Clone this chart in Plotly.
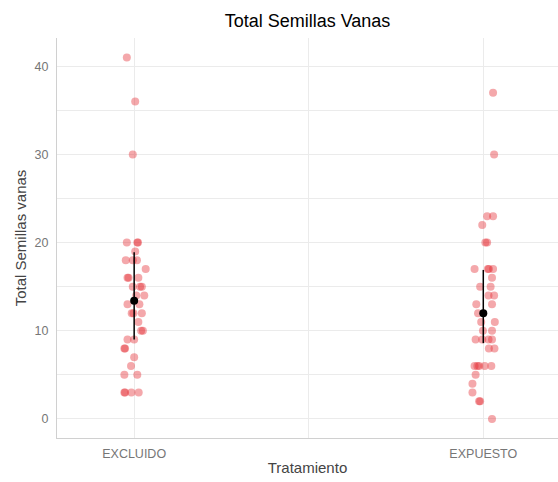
import plotly.graph_objects as go

# ---- data ----
categories = ["EXCLUIDO", "EXPUESTO"]

excluido_values = [41, 36, 30, 20, 20, 20, 19, 18, 18, 18, 17, 16, 16, 16, 15, 15, 15, 14, 14,
                   13, 13, 12, 12, 12, 11, 10, 10, 9, 9, 8, 8, 7, 6, 5, 5, 3, 3, 3, 3]
excluido_jitter = [-0.021, 0.003, -0.004, -0.021, 0.009, 0.011, 0.003, -0.024, -0.004, 0.008,
                   0.033, -0.016, -0.019, 0.012, -0.004, 0.017, 0.022, 0.006, 0.029, -0.019,
                   0.015, -0.007, -0.002, 0.022, 0.012, 0.020, 0.025, -0.019, 0.000, -0.028,
                   -0.026, 0.000, -0.009, -0.028, 0.009, -0.028, -0.026, -0.008, 0.013]

expuesto_values = [37, 30, 23, 23, 22, 20, 20, 17, 17, 17, 17, 16, 15, 15, 14, 14, 13, 13, 12,
                   11, 11, 10, 10, 9, 9, 9, 9, 8, 8, 6, 6, 6, 6, 6, 5, 4, 3, 2, 2, 0]
expuesto_jitter = [0.028, 0.031, 0.011, 0.028, -0.003, 0.011, 0.006, -0.025, 0.016, 0.028,
                   0.013, 0.025, -0.009, 0.021, 0.015, 0.031, 0.025, -0.020, -0.015, -0.006,
                   0.033, -0.001, 0.025, -0.022, -0.003, 0.015, 0.025, 0.016, 0.032, -0.025,
                   -0.017, -0.012, 0.004, 0.023, -0.022, -0.031, -0.031, -0.012, -0.009, 0.025]

summary_mean = [13.4, 12.0]
summary_low = [9.0, 8.6]
summary_high = [18.9, 16.9]

y_ticks = [0, 10, 20, 30, 40]

# ---- figure ----
FONT = "Liberation Sans, Arial, sans-serif"
point_color = "rgba(228, 38, 44, 0.40)"

fig = go.Figure()

groups = [(excluido_values, excluido_jitter), (expuesto_values, expuesto_jitter)]
for i, (vals, jit) in enumerate(groups):
    pos = i + 1
    fig.add_trace(go.Scatter(
        x=[pos + j for j in jit],
        y=vals,
        mode="markers",
        marker=dict(size=8, color=point_color, line=dict(width=0)),
        showlegend=False,
        hoverinfo="y",
    ))

cat_pos = [i + 1 for i in range(len(categories))]
fig.add_trace(go.Scatter(
    x=cat_pos,
    y=summary_mean,
    mode="markers",
    marker=dict(size=8, color="black"),
    error_y=dict(
        type="data",
        symmetric=False,
        array=[h - m for h, m in zip(summary_high, summary_mean)],
        arrayminus=[m - l for m, l in zip(summary_mean, summary_low)],
        width=0,
        thickness=1.5,
        color="black",
    ),
    showlegend=False,
))

grid = "#EBEBEB"
fig.update_layout(
    width=558,
    height=482,
    margin=dict(l=57, r=0, t=38, b=44, autoexpand=False),
    paper_bgcolor="white",
    plot_bgcolor="white",
    font=dict(family=FONT),
    title=dict(
        text="Total Semillas Vanas",
        x=0.5, xref="paper", xanchor="center",
        y=1 - 21 / 482, yref="container", yanchor="middle",
        font=dict(size=18, color="black", family=FONT),
    ),
    xaxis=dict(
        range=[0.779, 2.214],
        tickvals=cat_pos,
        ticktext=categories,
        showgrid=True,
        gridcolor=grid,
        gridwidth=1,
        minor=dict(tickvals=[1.5], showgrid=True, gridcolor=grid, gridwidth=1, ticks=""),
        zeroline=False,
        showline=True,
        linecolor="#D0D0D0",
        linewidth=1,
        ticks="outside",
        ticklen=4,
        tickcolor="rgba(0,0,0,0)",
        automargin=False,
        tickfont=dict(size=12.5, color="#767676", family=FONT),
        title=dict(text="Tratamiento", font=dict(size=15, color="#444444", family=FONT), standoff=2),
    ),
    yaxis=dict(
        range=[-2.16, 43.2],
        tickvals=y_ticks,
        showgrid=True,
        gridcolor=grid,
        gridwidth=1,
        minor=dict(dtick=5, showgrid=True, gridcolor=grid, gridwidth=1, ticks=""),
        zeroline=False,
        showline=True,
        linecolor="#D0D0D0",
        linewidth=1,
        ticks="outside",
        ticklen=5,
        tickcolor="rgba(0,0,0,0)",
        automargin=False,
        tickfont=dict(size=12.5, color="#767676", family=FONT),
        title=dict(text="Total Semillas vanas", font=dict(size=15, color="#444444", family=FONT), standoff=4),
    ),
)

fig.write_html(
    "out.html",
    config={"displayModeBar": False},
    post_script="document.body.style.margin='0';document.body.style.padding='0';",
)
